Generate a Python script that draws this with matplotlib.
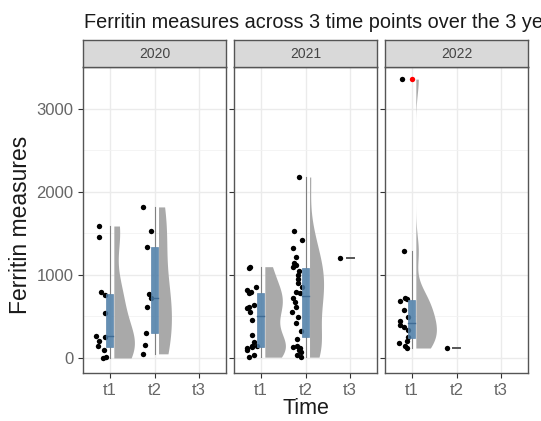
import matplotlib
matplotlib.use("Agg")
import matplotlib.pyplot as plt
from matplotlib.patches import Rectangle
import numpy as np

plt.rcParams['font.family'] = ['Liberation Sans', 'DejaVu Sans']

years = ["2020", "2021", "2022"]
times = ["t1", "t2", "t3"]

# ferritin values per year and time point
f2020_t1 = [0, 15, 100, 150, 200, 255, 265, 545, 760, 800, 1460, 1590]
f2020_t2 = [50, 155, 300, 615, 720, 770, 1340, 1530, 1820]
f2021_t1 = [10, 40, 100, 120, 130, 140, 150, 190, 280, 460,
            560, 600, 620, 640, 780, 800, 820, 860, 1090, 1100]
f2021_t2 = [10, 30, 70, 100, 125, 135, 150, 230, 330, 420,
            495, 560, 615, 680, 725, 780, 800, 850, 900, 950,
            1000, 1050, 1100, 1120, 1150, 1220, 1325, 1420, 1530, 2180]
f2021_t3 = [1200]
f2022_t1 = [120, 140, 180, 210, 255, 335, 375, 400, 450, 495,
            580, 690, 710, 720, 1290, 3360]
f2022_t2 = [120]

data = {
    "2020": {"t1": f2020_t1, "t2": f2020_t2},
    "2021": {"t1": f2021_t1, "t2": f2021_t2, "t3": f2021_t3},
    "2022": {"t1": f2022_t1, "t2": f2022_t2},
}

W, H = 541, 421
fig = plt.figure(figsize=(W / 100, H / 100), dpi=100)

box_col = "#4a7ba6"
violin_col = "#a9a9a9"
line_col = "#808080"
rng = np.random.default_rng(7)


def bw_nrd0(x):
    x = np.asarray(x, float)
    hi = np.std(x, ddof=1)
    q75, q25 = np.percentile(x, [75, 25])
    lo = min(hi, (q75 - q25) / 1.34)
    if lo == 0:
        lo = hi
    return 0.9 * lo * len(x) ** -0.2


def density(x, adjust=1.0):
    x = np.asarray(x, float)
    bw = bw_nrd0(x) * adjust
    grid = np.linspace(x.min(), x.max(), 512)
    d = np.exp(-0.5 * ((grid[:, None] - x[None, :]) / bw) ** 2).sum(1)
    d = d / (len(x) * bw * np.sqrt(2 * np.pi))
    return grid, d


panel_left = [83, 234, 385]
pw = 143
top, bottom = 67, 373
strip_top = 40

for k, yr in enumerate(years):
    ax = fig.add_axes([panel_left[k] / W, (H - bottom) / H, pw / W, (bottom - top) / H])
    ax.set_xlim(0.4, 3.6)
    ax.set_ylim(-181, 3506)
    ax.set_xticks([1, 2, 3])
    ax.set_xticklabels(times)
    ax.set_yticks([0, 1000, 2000, 3000])
    ax.set_yticks([500, 1500, 2500, 3500], minor=True)
    ax.grid(True, which="major", color="#ebebeb", lw=1.0)
    ax.grid(True, which="minor", axis="y", color="#f2f2f2", lw=0.6)
    ax.set_axisbelow(True)
    ax.tick_params(which="minor", length=0)
    ax.tick_params(which="major", length=3.5, color="#333333", labelsize=12,
                   labelcolor="#666666", width=0.8)
    if k > 0:
        ax.tick_params(labelleft=False)
    for sp in ax.spines.values():
        sp.set_color("#555555")
        sp.set_linewidth(1.0)

    groups = data[yr]
    dens = {}
    for t, vals in groups.items():
        if len(vals) > 1:
            dens[t] = density(vals)
    # violins scaled by area within the panel
    dmax = max(d.max() for g, d in dens.values()) if dens else 1

    for i, t in enumerate(times):
        if t not in groups:
            continue
        pos = i + 1
        vals = np.asarray(groups[t], float)

        # half violin on the right
        if t in dens:
            g, d = dens[t]
            xs = pos + 0.09 + d / dmax * 0.46
            ax.fill_betweenx(g, pos + 0.09, xs, color=violin_col, lw=0, zorder=2)

        # jittered raw points on the left
        jx = pos - 0.19 + rng.uniform(-0.12, 0.12, len(vals))
        ax.scatter(jx, vals, s=15, color="black", lw=0, zorder=3)

        # boxplot
        q1, med, q3 = np.percentile(vals, [25, 50, 75])
        iqr = q3 - q1
        lo_w = vals[vals >= q1 - 1.5 * iqr].min()
        hi_w = vals[vals <= q3 + 1.5 * iqr].max()
        out = vals[(vals < lo_w) | (vals > hi_w)]
        ax.plot([pos, pos], [lo_w, q1], color=line_col, lw=0.8, zorder=4)
        ax.plot([pos, pos], [q3, hi_w], color=line_col, lw=0.8, zorder=4)
        if iqr > 0:
            ax.add_patch(Rectangle((pos - 0.08, q1), 0.16, iqr, facecolor=box_col,
                                   edgecolor="#5f87ad", lw=0.6, alpha=0.85, zorder=4))
            ax.plot([pos - 0.08, pos + 0.08], [med, med], color="#3f6b94", lw=1.0, zorder=5)
        else:
            ax.plot([pos - 0.08, pos + 0.08], [med, med], color="#555555", lw=1.4, zorder=5)
        if len(out):
            ax.scatter(np.full(len(out), pos), out, s=15, color="red", lw=0, zorder=6)

    # facet strip
    sax = fig.add_axes([panel_left[k] / W, (H - top) / H, pw / W, (top - strip_top) / H])
    sax.set_facecolor("#d9d9d9")
    sax.set_xticks([])
    sax.set_yticks([])
    for sp in sax.spines.values():
        sp.set_color("#555555")
        sp.set_linewidth(1.0)
    sax.text(0.5, 0.5, yr, ha="center", va="center", fontsize=10, color="#444444",
             transform=sax.transAxes)

fig.text(84 / W, 1 - 22 / H, "Ferritin measures across 3 time points over the 3 years",
         ha="left", va="center", fontsize=14.3, color="#1a1a1a")
fig.text(21 / W, 1 - 225 / H, "Ferritin measures", rotation=90, ha="center", va="center",
         fontsize=16.5, color="#1a1a1a")
fig.text(306 / W, 1 - 409 / H, "Time", ha="center", va="center", fontsize=15.5, color="#1a1a1a")

fig.savefig("out.png", dpi=100)
